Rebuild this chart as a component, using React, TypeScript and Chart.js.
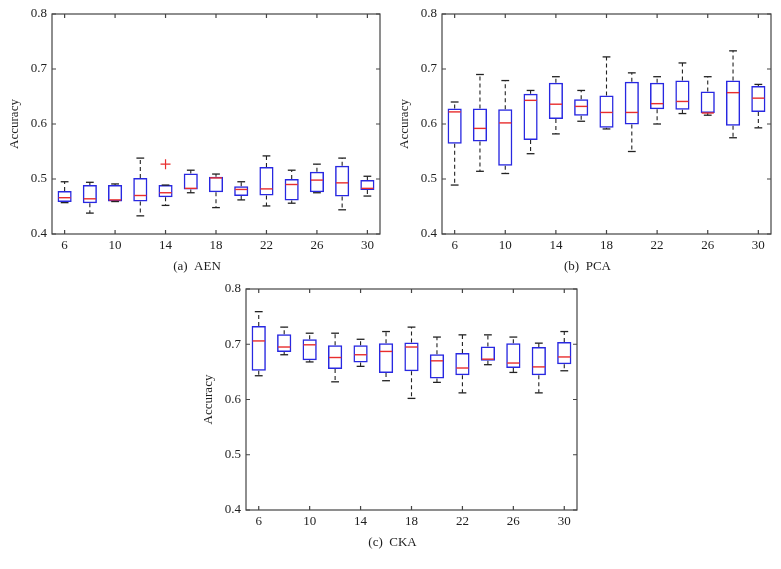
import React, { useEffect, useRef } from 'react';
import { Chart, registerables } from 'chart.js';

Chart.register(...registerables);

// ---------- data ----------
const categories = ['6', '8', '10', '12', '14', '16', '18', '20', '22', '24', '26', '28', '30'];
const xTickLabels = ['6', '10', '14', '18', '22', '26', '30'];
const yTickValues = [0.4, 0.5, 0.6, 0.7, 0.8];
const yTickLabels = ['0.4', '0.5', '0.6', '0.7', '0.8'];

// (a) AEN
const aenMin = [0.457, 0.438, 0.459, 0.433, 0.452, 0.475, 0.448, 0.462, 0.451, 0.456, 0.475, 0.444, 0.469];
const aenQ1 = [0.458, 0.456, 0.459, 0.459, 0.467, 0.481, 0.476, 0.469, 0.470, 0.461, 0.476, 0.468, 0.480];
const aenMed = [0.466, 0.464, 0.462, 0.470, 0.475, 0.483, 0.502, 0.481, 0.482, 0.490, 0.498, 0.493, 0.483];
const aenQ3 = [0.478, 0.489, 0.489, 0.502, 0.489, 0.510, 0.504, 0.487, 0.522, 0.500, 0.513, 0.524, 0.498];
const aenMax = [0.495, 0.494, 0.491, 0.538, 0.489, 0.516, 0.509, 0.495, 0.542, 0.516, 0.527, 0.538, 0.505];
const aenOutlierCats = ['14'];
const aenOutlierVals = [0.527];

// (b) PCA
const pcaMin = [0.489, 0.514, 0.510, 0.546, 0.582, 0.605, 0.591, 0.550, 0.600, 0.619, 0.616, 0.575, 0.593];
const pcaQ1 = [0.564, 0.568, 0.524, 0.571, 0.609, 0.615, 0.593, 0.599, 0.627, 0.626, 0.620, 0.597, 0.622];
const pcaMed = [0.622, 0.592, 0.602, 0.643, 0.636, 0.632, 0.621, 0.621, 0.637, 0.641, 0.620, 0.657, 0.647];
const pcaQ3 = [0.628, 0.628, 0.627, 0.655, 0.675, 0.645, 0.652, 0.677, 0.675, 0.679, 0.659, 0.679, 0.669];
const pcaMax = [0.640, 0.690, 0.679, 0.661, 0.686, 0.661, 0.722, 0.693, 0.686, 0.711, 0.686, 0.733, 0.672];

// (c) CKA
const ckaMin = [0.643, 0.681, 0.668, 0.632, 0.660, 0.634, 0.602, 0.631, 0.612, 0.663, 0.649, 0.612, 0.652];
const ckaQ1 = [0.652, 0.686, 0.671, 0.655, 0.667, 0.648, 0.651, 0.638, 0.644, 0.670, 0.657, 0.644, 0.664];
const ckaMed = [0.706, 0.695, 0.699, 0.676, 0.681, 0.687, 0.695, 0.670, 0.657, 0.673, 0.666, 0.659, 0.677];
const ckaQ3 = [0.733, 0.718, 0.709, 0.698, 0.698, 0.702, 0.703, 0.682, 0.684, 0.696, 0.702, 0.695, 0.704];
const ckaMax = [0.759, 0.731, 0.720, 0.720, 0.709, 0.723, 0.731, 0.713, 0.717, 0.717, 0.713, 0.702, 0.723];

// ---------- styles ----------
const FONT = '"Liberation Serif", "Times New Roman", serif';
const BLUE = 'rgb(40,40,225)';
const RED = 'rgb(232,45,45)';
const FRAME = '#444444';
const TEXT = '#1e1e1e';

type Stats = {
  min: number[]; q1: number[]; med: number[]; q3: number[]; max: number[];
  outCats: string[]; outVals: number[];
};

const boxExtras = {
  id: 'boxExtras',
  afterDatasetsDraw(chart: any, _args: any, opts: any) {
    const st: Stats = opts.stats;
    const { ctx, chartArea, scales } = chart;
    const x = scales.x;
    const y = scales.y;
    const meta = chart.getDatasetMeta(0);
    ctx.save();
    st.med.forEach((m, i) => {
      const bar = meta.data[i];
      const half = bar.width / 2;
      const cx = x.getPixelForValue(i);
      const capHalf = half * 0.55;
      const yMin = y.getPixelForValue(st.min[i]);
      const yMax = y.getPixelForValue(st.max[i]);
      const yQ1 = y.getPixelForValue(st.q1[i]);
      const yQ3 = y.getPixelForValue(st.q3[i]);
      ctx.strokeStyle = '#222';
      ctx.lineWidth = 1.1;
      ctx.setLineDash([4, 3]);
      if (yMax < yQ3 - 1) {
        ctx.beginPath(); ctx.moveTo(cx, yQ3); ctx.lineTo(cx, yMax); ctx.stroke();
      }
      if (yMin > yQ1 + 1) {
        ctx.beginPath(); ctx.moveTo(cx, yQ1); ctx.lineTo(cx, yMin); ctx.stroke();
      }
      ctx.setLineDash([]);
      ctx.lineWidth = 1.3;
      ctx.beginPath(); ctx.moveTo(cx - capHalf, yMax); ctx.lineTo(cx + capHalf, yMax); ctx.stroke();
      ctx.beginPath(); ctx.moveTo(cx - capHalf, yMin); ctx.lineTo(cx + capHalf, yMin); ctx.stroke();
      const yMed = y.getPixelForValue(m);
      ctx.strokeStyle = RED;
      ctx.lineWidth = 1.4;
      ctx.beginPath(); ctx.moveTo(cx - half + 1, yMed); ctx.lineTo(cx + half - 1, yMed); ctx.stroke();
    });
    // outliers
    ctx.strokeStyle = RED;
    ctx.lineWidth = 1.2;
    st.outCats.forEach((c, k) => {
      const px = x.getPixelForValue(categories.indexOf(c));
      const py = y.getPixelForValue(st.outVals[k]);
      ctx.beginPath();
      ctx.moveTo(px - 5, py); ctx.lineTo(px + 5, py);
      ctx.moveTo(px, py - 5); ctx.lineTo(px, py + 5);
      ctx.stroke();
    });
    // frame
    const { left, right, top, bottom } = chartArea;
    ctx.strokeStyle = FRAME;
    ctx.lineWidth = 1.2;
    ctx.strokeRect(left, top, right - left, bottom - top);
    const tl = 4;
    ctx.beginPath();
    yTickValues.forEach((v) => {
      const py = y.getPixelForValue(v);
      ctx.moveTo(left, py); ctx.lineTo(left + tl, py);
      ctx.moveTo(right, py); ctx.lineTo(right - tl, py);
    });
    xTickLabels.forEach((lab) => {
      const px = x.getPixelForValue(categories.indexOf(lab));
      ctx.moveTo(px, bottom); ctx.lineTo(px, bottom - tl);
      ctx.moveTo(px, top); ctx.lineTo(px, top + tl);
    });
    ctx.stroke();
    // caption
    ctx.fillStyle = TEXT;
    ctx.font = `13px ${FONT}`;
    ctx.textAlign = 'center';
    ctx.textBaseline = 'middle';
    ctx.fillText(opts.caption, chart.width / 2 + 2, bottom + 33);
    ctx.restore();
  },
};

type PanelProps = {
  left: number; top: number; width: number; height: number;
  padTop: number; padBottom: number; padRight: number;
  caption: string; stats: Stats;
};

function Panel(p: PanelProps) {
  const ref = useRef<HTMLCanvasElement>(null);
  useEffect(() => {
    if (!ref.current) return;
    const st = p.stats;
    const chart = new Chart(ref.current, {
      type: 'bar',
      data: {
        labels: categories,
        datasets: [
          {
            data: st.q1.map((q, i) => [q, st.q3[i]]) as any,
            backgroundColor: 'rgba(0,0,0,0)',
            borderColor: BLUE,
            borderWidth: 1.5,
            borderSkipped: false,
            barPercentage: 0.56,
            categoryPercentage: 1,
          },
        ],
      },
      options: {
        responsive: false,
        maintainAspectRatio: false,
        animation: false,
        layout: { padding: { top: p.padTop, bottom: p.padBottom, left: 0, right: p.padRight } },
        plugins: {
          legend: { display: false },
          tooltip: { enabled: false },
          title: { display: false },
          boxExtras: { stats: st, caption: p.caption },
        } as any,
        scales: {
          x: {
            type: 'category',
            grid: { display: false, drawTicks: false },
            border: { display: false },
            ticks: {
              autoSkip: false,
              maxRotation: 0,
              padding: 4,
              color: TEXT,
              font: { family: FONT, size: 13 },
              callback: (_v: any, i: number) => (xTickLabels.includes(categories[i]) ? categories[i] : ''),
            },
            afterFit: (s: any) => { s.height = 22; },
          },
          y: {
            type: 'linear',
            min: 0.4,
            max: 0.8,
            grid: { display: false, drawTicks: false },
            border: { display: false },
            afterBuildTicks: (s: any) => { s.ticks = yTickValues.map((v) => ({ value: v })); },
            ticks: {
              padding: 5,
              color: TEXT,
              font: { family: FONT, size: 13 },
              callback: (_v: any, i: number) => yTickLabels[i],
            },
            title: {
              display: true,
              text: 'Accuracy',
              color: TEXT,
              font: { family: FONT, size: 13 },
              padding: { top: 7, bottom: 0 },
            },
            afterFit: (s: any) => { s.width = 52; },
          },
        },
      },
      plugins: [boxExtras as any],
    });
    return () => chart.destroy();
  }, []);
  return (
    <div style={{ position: 'absolute', left: p.left, top: p.top, width: p.width, height: p.height }}>
      <canvas ref={ref} width={p.width} height={p.height} style={{ width: p.width, height: p.height, display: 'block' }} />
    </div>
  );
}

export default function App() {
  const aen: Stats = { min: aenMin, q1: aenQ1, med: aenMed, q3: aenQ3, max: aenMax, outCats: aenOutlierCats, outVals: aenOutlierVals };
  const pca: Stats = { min: pcaMin, q1: pcaQ1, med: pcaMed, q3: pcaQ3, max: pcaMax, outCats: [], outVals: [] };
  const cka: Stats = { min: ckaMin, q1: ckaQ1, med: ckaMed, q3: ckaQ3, max: ckaMax, outCats: [], outVals: [] };
  return (
    <div style={{ position: 'absolute', left: 0, top: 0, width: 781, height: 569, background: '#fff', overflow: 'hidden' }}>
      <Panel left={0} top={0} width={390} height={285} padTop={14} padBottom={29} padRight={10} caption="(a)  AEN" stats={aen} />
      <Panel left={390} top={0} width={391} height={285} padTop={14} padBottom={29} padRight={10} caption="(b)  PCA" stats={pca} />
      <Panel left={194} top={275} width={393} height={290} padTop={14} padBottom={33} padRight={10} caption="(c)  CKA" stats={cka} />
    </div>
  );
}
